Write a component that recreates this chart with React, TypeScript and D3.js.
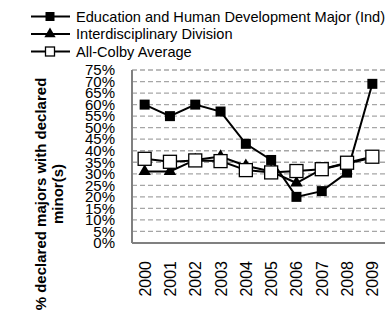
import React from 'react';
import * as d3 from 'd3';

const years = ['2000', '2001', '2002', '2003', '2004', '2005', '2006', '2007', '2008', '2009'];
const educationMajor = [60, 55, 60, 57, 43, 36, 20, 22.5, 30.5, 69];
const interdisciplinary = [31, 31, 36, 37.5, 33.5, 31, 26, 32, 34.5, 37];
const colbyAverage = [36.5, 35.2, 35.8, 35.5, 31.6, 30.6, 31.2, 32, 34.8, 37.4];
const yTicks = [0, 5, 10, 15, 20, 25, 30, 35, 40, 45, 50, 55, 60, 65, 70, 75];

const legendItems = [
  { label: 'Education and Human Development Major (Ind)', marker: 'blackSquare' },
  { label: 'Interdisciplinary Division', marker: 'triangle' },
  { label: 'All-Colby Average', marker: 'whiteSquare' },
];

const FONT = '"Liberation Sans", Arial, sans-serif';

function Marker({ kind, x, y, size }: { kind: string; x: number; y: number; size: number }) {
  if (kind === 'triangle') {
    const tri = d3.symbol().type(d3.symbolTriangle).size(size * size * 0.55)();
    return <path d={tri || ''} transform={`translate(${x},${y})`} fill="#000" />;
  }
  const white = kind === 'whiteSquare';
  return (
    <rect
      x={x - size / 2}
      y={y - size / 2}
      width={size}
      height={size}
      fill={white ? '#fff' : '#000'}
      stroke="#000"
      strokeWidth={white ? 1.3 : 0}
    />
  );
}

export default function App() {
  const width = 388;
  const height = 311;
  const margin = { left: 132, right: 3, top: 70, bottom: 68 };

  const x = d3
    .scaleBand<string>()
    .domain(years)
    .range([margin.left, width - margin.right]);
  const y = d3
    .scaleLinear()
    .domain([0, 75])
    .range([height - margin.bottom, margin.top]);

  const line = d3
    .line<number>()
    .x((_, i) => (x(years[i]) ?? 0) + x.bandwidth() / 2)
    .y(d => y(d));

  const series = [
    { values: educationMajor, marker: 'blackSquare', size: 10 },
    { values: interdisciplinary, marker: 'triangle', size: 11 },
    { values: colbyAverage, marker: 'whiteSquare', size: 13 },
  ];

  const x0 = margin.left;
  const x1 = width - margin.right;
  const yBottom = y(0);

  return (
    <svg
      width={width}
      height={height}
      style={{ position: 'absolute', left: 0, top: 0, background: '#fff' }}
      fontFamily={FONT}
    >
      {/* legend */}
      {legendItems.map((item, i) => {
        const ly = 16.5 + i * 17.5;
        return (
          <g key={item.label}>
            <line x1={31} x2={70} y1={ly} y2={ly} stroke="#000" strokeWidth={2} />
            <Marker kind={item.marker} x={50} y={ly} size={item.marker === 'triangle' ? 10 : 9} />
            <text x={76} y={ly} dy="0.35em" fontSize={14.6} fill="#000">
              {item.label}
            </text>
          </g>
        );
      })}

      {/* grid */}
      {yTicks.filter(t => t > 0).map(t => (
        <line
          key={t}
          x1={x0}
          x2={x1}
          y1={y(t)}
          y2={y(t)}
          stroke="#a6a6a6"
          strokeWidth={1.3}
          strokeDasharray="5,3"
        />
      ))}

      {/* axes */}
      <line x1={x0} x2={x0} y1={y(75)} y2={yBottom} stroke="#808080" strokeWidth={2} />
      <line x1={x0} x2={x1} y1={yBottom} y2={yBottom} stroke="#808080" strokeWidth={2} />

      {yTicks.map(t => (
        <text key={t} x={115} y={y(t)} dy="0.35em" textAnchor="end" fontSize={15} fill="#000">
          {`${t}%`}
        </text>
      ))}

      {years.map(yr => {
        const cx = (x(yr) ?? 0) + x.bandwidth() / 2;
        return (
          <text
            key={yr}
            transform={`translate(${cx + 6},261) rotate(-90)`}
            textAnchor="end"
            fontSize={16}
            fill="#000"
          >
            {yr}
          </text>
        );
      })}

      {/* y axis title */}
      <text
        transform={`translate(46,194) rotate(-90)`}
        textAnchor="middle"
        fontSize={15}
        fontWeight="bold"
        fill="#000"
      >
        % declared majors with declared
      </text>
      <text
        transform={`translate(63,194) rotate(-90)`}
        textAnchor="middle"
        fontSize={15}
        fontWeight="bold"
        fill="#000"
      >
        minor(s)
      </text>

      {/* series */}
      {series.map(s => (
        <g key={s.marker}>
          <path d={line(s.values) || ''} fill="none" stroke="#000" strokeWidth={2} />
          {s.values.map((v, i) => (
            <Marker
              key={i}
              kind={s.marker}
              x={(x(years[i]) ?? 0) + x.bandwidth() / 2}
              y={y(v)}
              size={s.size}
            />
          ))}
        </g>
      ))}
    </svg>
  );
}
